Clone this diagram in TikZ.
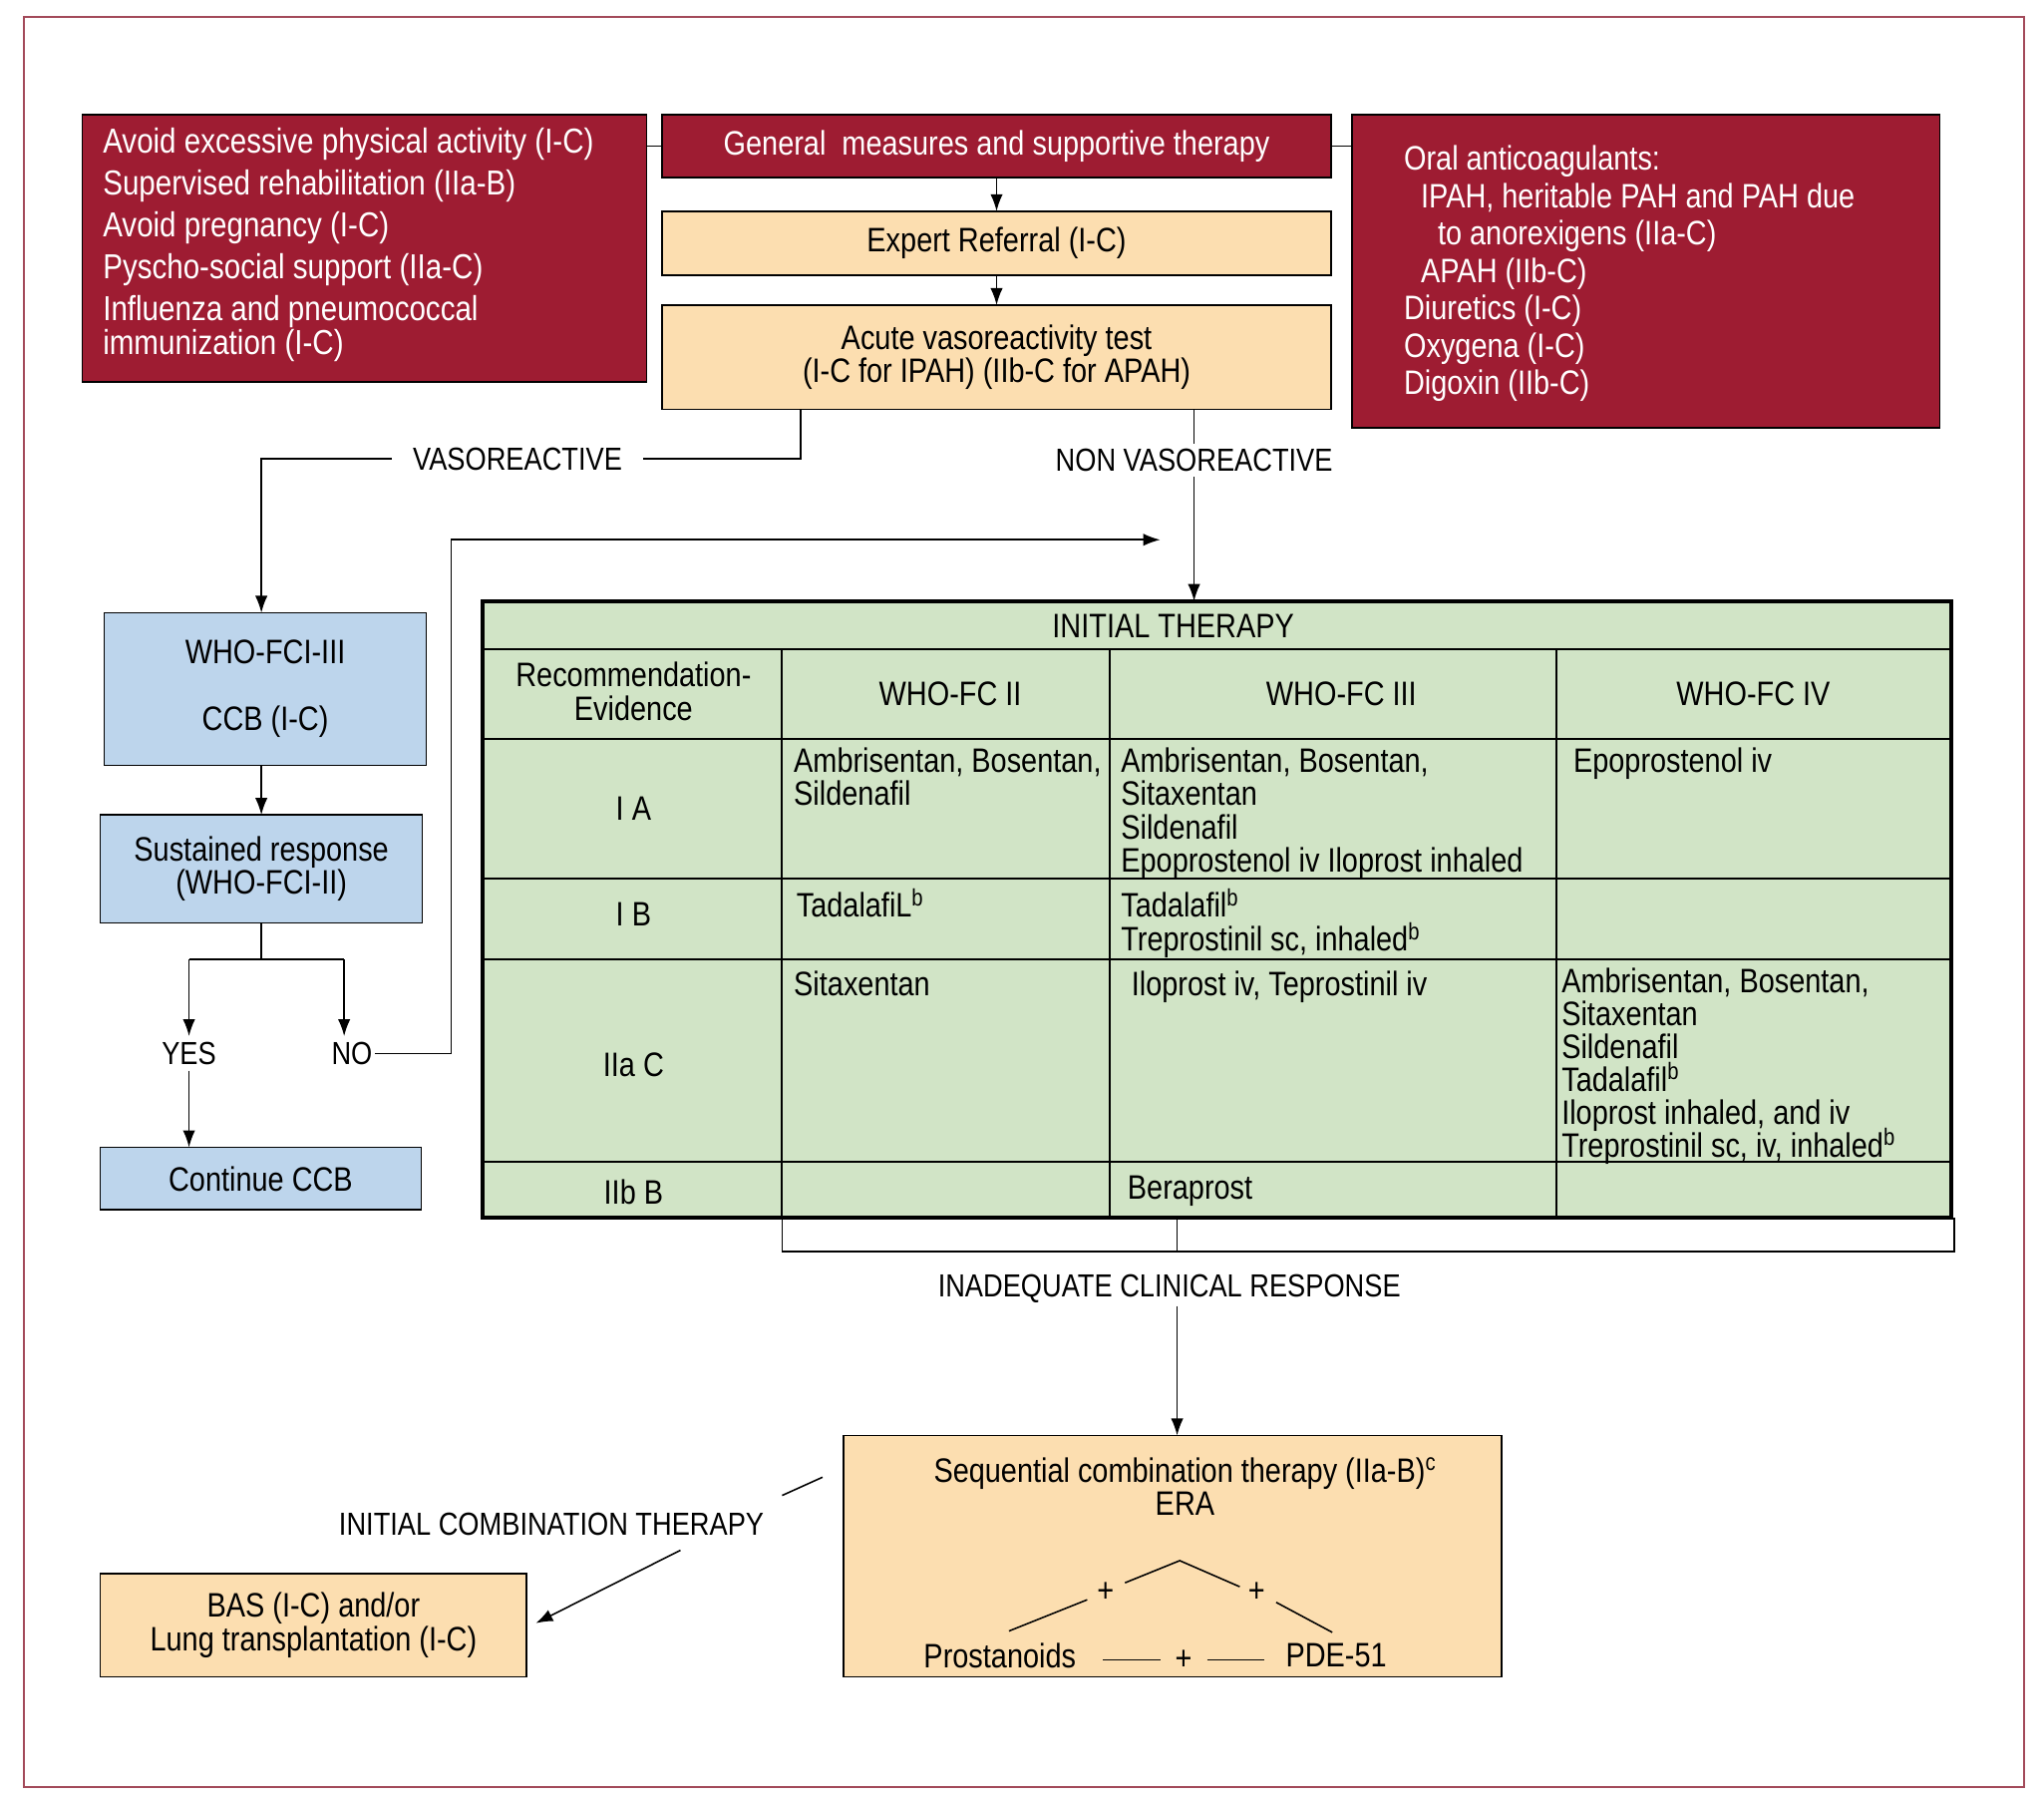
\documentclass[tikz,border=0pt]{standalone}
\usepackage{fontspec}
\setmainfont{Liberation Sans}[FakeStretch=0.85]
\usetikzlibrary{arrows.meta}
\definecolor{cred}{HTML}{9E1C32}
\definecolor{cpeach}{HTML}{FCDEB0}
\definecolor{cblue}{HTML}{BDD5EC}
\definecolor{cgreen}{HTML}{D1E4C6}
\definecolor{cframe}{HTML}{A34A5A}
\newcommand\sups[1]{\smash{\textsuperscript{#1}}}
\tikzset{
  every node/.style={inner sep=0pt, outer sep=0pt},
  fb/.style={font=\fontsize{26}{26}\selectfont},
  redbox/.style={draw=black, line width=1.2pt, fill=cred},
  peachbox/.style={draw=black, line width=1.2pt, fill=cpeach, fb, align=center},
  bluebox/.style={draw=black, line width=1.2pt, fill=cblue, fb, align=center},
  lbl/.style={font=\fontsize{24.5}{24.5}\selectfont, text height=17.5pt, text depth=0pt},
  cell/.style={font=\fontsize{26}{25.4}\selectfont, align=left, anchor=north west},
  hd/.style={font=\fontsize{26}{26}\selectfont, align=center},
  arr/.style={-{Latex[length=13pt,width=9.5pt]}, line width=1.2pt},
  ln/.style={line width=1.2pt},
  tl/.style={line width=1.5pt}
}
\begin{document}
\begin{tikzpicture}[x=1pt,y=-1pt]
\useasboundingbox (0,0) rectangle (1568,1380);
\draw[cframe, line width=1.5pt] (18,13) rectangle (1553,1371);

% top row boxes
\node[redbox, minimum width=433pt, minimum height=205pt] (lbox) at (279.5,190.5) {};
\node[cell, text=white, font=\fontsize{26.6}{26}\selectfont] (ltxt) at (79,98.5)
  {Avoid excessive physical activity (I-C)\\[6pt]
   Supervised rehabilitation (IIa-B)\\[6pt]
   Avoid pregnancy (I-C)\\[6pt]
   Pyscho-social support (IIa-C)\\[6pt]
   Influenza and pneumococcal\\
   immunization (I-C)};
\node[redbox, fb, text=white, minimum width=513pt, minimum height=48pt] (gen) at (764.5,112)
  {General\ \ measures and supportive therapy};
\node[redbox, minimum width=451pt, minimum height=240pt] (rbox) at (1262.5,208) {};
\node[cell, text=white, font=\fontsize{26}{28.7}\selectfont] (rtxt) at (1077,111.7)
  {Oral anticoagulants:\\
   \hspace*{13pt}IPAH, heritable PAH and PAH due\\
   \hspace*{26pt}to anorexigens (IIa-C)\\
   \hspace*{13pt}APAH (IIb-C)\\
   Diuretics (I-C)\\
   Oxygena (I-C)\\
   Digoxin (IIb-C)};
\node[peachbox, minimum width=513pt, minimum height=49pt] (exp) at (764.5,186.5) {Expert Referral (I-C)};
\node[peachbox, font=\fontsize{26}{25}\selectfont, minimum width=513pt, minimum height=80pt] (acute) at (764.5,274)
  {Acute vasoreactivity test\\(I-C for IPAH) (IIb-C for APAH)};

\draw[ln] (lbox.east |- gen.west) -- (gen.west);
\draw[ln] (gen.east) -- (rbox.west |- gen.east);
\draw[arr] (gen.south) -- (exp.north);
\draw[arr] (exp.south) -- (acute.north);

% vasoreactive branch
\node[lbl, inner xsep=16pt] (vaso) at (397,352) {VASOREACTIVE};
\coordinate (vx) at (614,352);
\draw[ln] (vx |- acute.south) -- (vx) -- (vaso.east);

\node[bluebox, minimum width=247pt, minimum height=117pt] (who) at (203.5,528.5) {WHO-FCI-III\\[25pt]CCB (I-C)};
\node[bluebox, font=\fontsize{26}{25}\selectfont, minimum width=247pt, minimum height=83pt] (sus) at (200.5,666.5) {Sustained response\\(WHO-FCI-II)};
\node[bluebox, minimum width=246pt, minimum height=48pt] (cont) at (200,904) {Continue CCB};

\draw[arr] (vaso.west) -- (vaso.west -| sus.north) -- (sus.north |- who.north);
\draw[arr] (sus.north |- who.south) -- (sus.north);

\node[lbl, inner ysep=4.5pt] (yes) at (145,808) {YES};
\node[lbl, inner ysep=4.5pt, inner xsep=2pt] (no) at (270,808) {NO};
\coordinate (yl) at (145,736);
\coordinate (nl) at (264,736);
\draw[ln] (sus.south) -- (sus.south |- yl);
\draw[ln] (yl) -- (nl);
\draw[arr] (yl) -- (yes.north);
\draw[arr] (nl) -- (nl |- no.north);
\draw[arr] (yes.south) -- (yes.south |- cont.north);
\coordinate (nocorner) at (346,414);
\coordinate (noend) at (890,414);
\draw[arr] (no.east) -- (no.east -| nocorner) -- (nocorner) -- (noend);

% non vasoreactive
\node[lbl, inner ysep=4pt] (nonv) at (916,353) {NON VASOREACTIVE};
\draw[ln] (nonv.north |- acute.south) -- (nonv.north);

% table
\node[draw=black, line width=3pt, fill=cgreen, minimum width=1127pt, minimum height=473pt] (tbl) at (933.5,697.5) {};
\draw[arr] (nonv.south) -- (nonv.south |- tbl.north);
\foreach \yy in {498,567,674,736,891} \draw[tl] (370,\yy) -- (1497,\yy);
\foreach \xx in {600,851,1194} \draw[tl] (\xx,498) -- (\xx,934);

\node[hd] (ttl) at (900,480) {INITIAL THERAPY};
\node[hd, font=\fontsize{26}{26}\selectfont] (h0) at (486,530) {Recommendation-\\Evidence};
\node[hd] (h1) at (729,532) {WHO-FC II};
\node[hd] (h2) at (1029,532) {WHO-FC III};
\node[hd] (h3) at (1345,532) {WHO-FC IV};
\node[hd] (r1) at (486,620) {I A};
\node[hd] (r2) at (486,701) {I B};
\node[hd] (r3) at (486,817) {IIa C};
\node[hd] (r4) at (486,914) {IIb B};

\node[cell] (c11) at (609,573.7) {Ambrisentan, Bosentan,\\Sildenafil};
\node[cell] (c12) at (860,573.7) {Ambrisentan, Bosentan,\\Sitaxentan\\Sildenafil\\Epoprostenol iv Iloprost inhaled};
\node[cell] (c13) at (1207,573.7) {Epoprostenol iv};
\node[cell] (c21) at (611,684.7) {TadalafiL\sups{b}};
\node[cell, font=\fontsize{26}{26}\selectfont] (c22) at (860,684.7) {Tadalafil\sups{b}\\Treprostinil sc, inhaled\sups{b}};
\node[cell] (c31) at (609,744.7) {Sitaxentan};
\node[cell] (c32) at (868,744.7) {Iloprost iv, Teprostinil iv};
\node[cell, font=\fontsize{26}{25.2}\selectfont] (c33) at (1198,742.7)
  {Ambrisentan, Bosentan,\\Sitaxentan\\Sildenafil\\Tadalafil\sups{b}\\Iloprost inhaled, and iv\\Treprostinil sc, iv, inhaled\sups{b}};
\node[cell] (c42) at (865,901.7) {Beraprost};

% bracket below table
\coordinate (bk) at (903,960);
\draw[ln] (600,934) -- (600,960) -- (1499,960) -- (1499,934);
\draw[ln] (bk |- tbl.south) -- (bk);
\node[lbl, inner ysep=7pt] (inad) at (897,986) {INADEQUATE CLINICAL RESPONSE};

% sequential combination
\node[peachbox, minimum width=505pt, minimum height=185pt] (seq) at (899.5,1193.5) {};
\draw[arr] (inad.south -| bk) -- (seq.north -| bk);
\node[hd, font=\fontsize{26}{25}\selectfont] (seqt) at (909,1140) {Sequential combination therapy (IIa-B)\sups{c}\\ERA};
\node[hd] (pros) at (767,1270) {Prostanoids};
\node[hd] (pde) at (1025,1270) {PDE-51};
\node[hd] (p1) at (848,1221) {+};
\node[hd] (p2) at (964,1221) {+};
\node[hd] (p3) at (908,1273) {+};
\draw[ln] (774,1251) -- (834,1227);
\draw[ln] (863,1214) -- (905,1197) -- (951,1217);
\draw[ln] (979,1229) -- (1022,1252);
\draw[ln] (846,1273) -- (890,1273);
\draw[ln] (926,1273) -- (970,1273);

% initial combination therapy
\node[lbl] (icomb) at (423,1169) {INITIAL COMBINATION THERAPY};
\node[peachbox, font=\fontsize{26}{26}\selectfont, minimum width=327pt, minimum height=79pt] (bas) at (240.5,1246.5) {BAS (I-C) and/or\\Lung transplantation (I-C)};
\coordinate (ica) at (631,1133);
\coordinate (icb) at (600,1147);
\coordinate (icc) at (522,1189);
\draw[ln] (ica) -- (icb);
\draw[arr] (icc) -- ([xshift=7pt,yshift=1.5pt]bas.east);
\end{tikzpicture}
\end{document}
